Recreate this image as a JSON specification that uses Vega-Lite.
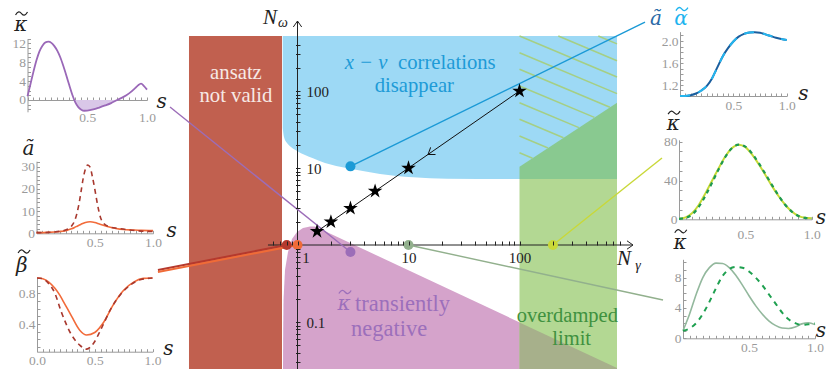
{
"$schema":"https://vega.github.io/schema/vega-lite/v6.json",
"width":826,"height":369,"autosize":{"type":"none"},"padding":0,"background":"white",
"config":{"view":{"stroke":null},"axis":{"grid":false,"labelFlush":false,"labelOverlap":false,"labelFont":"Liberation Serif"},"text":{"font":"Liberation Serif"}},
"datasets":{
"red":[{"x":0.1053,"x2":0.725,"y":518,"y2":0.01}],
"blue":[{"x":0.7357,"y":33.07},{"x":0.7556,"y":25.27},{"x":0.8043,"y":21.12},{"x":0.8738,"y":18.74},{"x":0.9897,"y":16.63},{"x":1.1684,"y":14.75},{"x":1.3793,"y":13.37},{"x":1.7689,"y":11.61},{"x":2.4149,"y":10.39},{"x":3.6576,"y":9.28},{"x":5.5376,"y":8.36},{"x":10.98,"y":7.57},{"x":22.23,"y":7.26},{"x":100,"y":7.197},{"x":755.8,"y":7.197}],
"pink":[{"x":0.7403,"y":0.02453},{"x":0.7433,"y":0.0787},{"x":0.7481,"y":0.1931},{"x":0.7716,"y":0.4735},{"x":0.8212,"y":0.8111},{"x":0.8922,"y":1.1965},{"x":0.9897,"y":1.4752},{"x":1.1208,"y":1.6626},{"x":1.2961,"y":1.739},{"x":1.4376,"y":1.739},{"x":755.8,"y":0.02527}],
"lgreen":[{"x":100,"x2":755.8,"y":7.197,"y2":0.01}],
"olive":[{"x":100,"y":0.0982},{"x":755.8,"y":0.02527}],
"dgreen":[{"x":100,"y":10.39},{"x":755.8,"y":70.5}],
"hatch":[{"x":100,"y":518,"x2":755.8,"y2":152},{"x":100,"y":314.4,"x2":755.8,"y2":92.5},{"x":100,"y":191.3,"x2":652.3,"y2":61.4},{"x":100,"y":116.1,"x2":472.9,"y2":45.4},{"x":100,"y":70.5,"x2":342.9,"y2":33.5},{"x":100,"y":42.9,"x2":249.1,"y2":24.7},{"x":100,"y":26.0,"x2":180.6,"y2":18.2},{"x":100,"y":15.8,"x2":131.0,"y2":13.4},{"x":223.6,"y":518,"x2":755.8,"y2":247.5},{"x":512.8,"y":518,"x2":755.8,"y2":409.0}],
"axlines":[{"x":0.542,"y":1,"x2":1053,"y2":1},{"x":1,"y":0.01,"x2":1,"y2":811}],
"conn_thin":[{"name":"purple","x":0.071,"y":62.0,"x2":3,"y2":0.811},{"name":"blue","x":3,"y":10.5,"x2":1351,"y2":787},{"name":"yellow","x":200,"y":1,"x2":1922,"y2":13.5},{"name":"green","x":10,"y":1,"x2":1963,"y2":0.193}],
"conn_thick":[{"name":"red","x":0.0553,"y":0.4735,"x2":0.8,"y2":1},{"name":"orange","x":0.0553,"y":0.446,"x2":1,"y2":1}],
"dots":[{"name":"red","x":0.8,"y":1},{"name":"orange","x":1,"y":1},{"name":"purple","x":3,"y":0.811},{"name":"blue","x":3,"y":10.5},{"name":"green","x":10,"y":1},{"name":"yellow","x":200,"y":1}],
"stars":[{"x":1.5,"y":1.5},{"x":2,"y":2},{"x":3,"y":3},{"x":5,"y":5},{"x":10,"y":10},{"x":100,"y":100}],
"k1":[{"s":0,"v":0.8},{"s":0.025,"v":3.4},{"s":0.05,"v":6.0},{"s":0.075,"v":8.4},{"s":0.1,"v":10.3},{"s":0.125,"v":11.5},{"s":0.15,"v":12.2},{"s":0.175,"v":12.35},{"s":0.2,"v":12.1},{"s":0.225,"v":11.4},{"s":0.25,"v":10.4},{"s":0.275,"v":9.0},{"s":0.3,"v":7.2},{"s":0.325,"v":5.2},{"s":0.35,"v":3.1},{"s":0.375,"v":1.1},{"s":0.4,"v":-0.5},{"s":0.425,"v":-1.5},{"s":0.45,"v":-2.05},{"s":0.475,"v":-2.28},{"s":0.5,"v":-2.25},{"s":0.55,"v":-2.0},{"s":0.6,"v":-1.6},{"s":0.65,"v":-1.15},{"s":0.7,"v":-0.65},{"s":0.75,"v":0.0},{"s":0.8,"v":0.6},{"s":0.85,"v":1.4},{"s":0.9,"v":2.5},{"s":0.925,"v":3.1},{"s":0.95,"v":3.45},{"s":0.975,"v":2.95},{"s":1.0,"v":2.2}],
"k1neg":[{"s":0.392,"v":0},{"s":0.4,"v":-0.5},{"s":0.425,"v":-1.5},{"s":0.45,"v":-2.05},{"s":0.475,"v":-2.28},{"s":0.5,"v":-2.25},{"s":0.55,"v":-2.0},{"s":0.6,"v":-1.6},{"s":0.65,"v":-1.15},{"s":0.7,"v":-0.65},{"s":0.75,"v":0}],
"a2d":[{"s":0,"v":0.3},{"s":0.1,"v":0.4},{"s":0.2,"v":0.9},{"s":0.25,"v":1.5},{"s":0.3,"v":3.2},{"s":0.33,"v":6},{"s":0.36,"v":12},{"s":0.38,"v":18},{"s":0.4,"v":24.5},{"s":0.42,"v":29},{"s":0.44,"v":30.8},{"s":0.46,"v":29.8},{"s":0.48,"v":25.5},{"s":0.5,"v":20},{"s":0.52,"v":14},{"s":0.55,"v":7},{"s":0.58,"v":4.3},{"s":0.62,"v":3.0},{"s":0.7,"v":2.2},{"s":0.8,"v":1.5},{"s":0.9,"v":1.0},{"s":1,"v":0.8}],
"a2s":[{"s":0,"v":0.3},{"s":0.1,"v":0.4},{"s":0.2,"v":0.8},{"s":0.26,"v":1.3},{"s":0.3,"v":2.0},{"s":0.34,"v":3.0},{"s":0.38,"v":4.0},{"s":0.42,"v":4.9},{"s":0.46,"v":5.2},{"s":0.5,"v":4.9},{"s":0.54,"v":4.2},{"s":0.6,"v":3.2},{"s":0.68,"v":2.2},{"s":0.75,"v":1.7},{"s":0.82,"v":1.5},{"s":0.9,"v":1.3},{"s":1,"v":1.2}],
"b3s":[{"s":0,"v":1},{"s":0.05,"v":0.99},{"s":0.1,"v":0.95},{"s":0.155,"v":0.865},{"s":0.2,"v":0.77},{"s":0.23,"v":0.69},{"s":0.3,"v":0.5},{"s":0.37,"v":0.32},{"s":0.43,"v":0.257},{"s":0.5,"v":0.29},{"s":0.58,"v":0.43},{"s":0.66,"v":0.65},{"s":0.75,"v":0.84},{"s":0.84,"v":0.95},{"s":0.92,"v":0.995},{"s":1,"v":1}],
"b3d":[{"s":0,"v":1},{"s":0.05,"v":0.99},{"s":0.1,"v":0.93},{"s":0.155,"v":0.8},{"s":0.21,"v":0.56},{"s":0.3,"v":0.257},{"s":0.37,"v":0.126},{"s":0.43,"v":0.074},{"s":0.49,"v":0.15},{"s":0.55,"v":0.32},{"s":0.64,"v":0.6},{"s":0.72,"v":0.78},{"s":0.81,"v":0.91},{"s":0.9,"v":0.98},{"s":1,"v":1}],
"al4":[{"s":0,"v":1},{"s":0.05,"v":1.0},{"s":0.1,"v":1.015},{"s":0.15,"v":1.045},{"s":0.2,"v":1.1},{"s":0.25,"v":1.18},{"s":0.3,"v":1.32},{"s":0.35,"v":1.52},{"s":0.4,"v":1.72},{"s":0.45,"v":1.87},{"s":0.5,"v":1.99},{"s":0.55,"v":2.08},{"s":0.6,"v":2.13},{"s":0.65,"v":2.155},{"s":0.7,"v":2.16},{"s":0.75,"v":2.15},{"s":0.8,"v":2.12},{"s":0.85,"v":2.09},{"s":0.9,"v":2.06},{"s":0.95,"v":2.035},{"s":1,"v":2.02}],
"k5s":[{"s":0,"v":0.5},{"s":0.05,"v":2},{"s":0.1,"v":6.5},{"s":0.15,"v":15},{"s":0.2,"v":27},{"s":0.25,"v":40},{"s":0.3,"v":53},{"s":0.35,"v":65},{"s":0.4,"v":73.5},{"s":0.45,"v":77},{"s":0.5,"v":74.5},{"s":0.55,"v":67},{"s":0.6,"v":57},{"s":0.65,"v":46},{"s":0.7,"v":34.5},{"s":0.75,"v":24},{"s":0.8,"v":15},{"s":0.85,"v":8},{"s":0.9,"v":3.5},{"s":0.95,"v":1.5},{"s":1,"v":1}],
"k5d":[{"s":0,"v":0.5},{"s":0.05,"v":1.5},{"s":0.1,"v":5},{"s":0.15,"v":13},{"s":0.2,"v":24.5},{"s":0.25,"v":38},{"s":0.3,"v":52},{"s":0.35,"v":64.5},{"s":0.4,"v":73.5},{"s":0.45,"v":77},{"s":0.5,"v":75},{"s":0.55,"v":68},{"s":0.6,"v":58},{"s":0.65,"v":47},{"s":0.7,"v":35.5},{"s":0.75,"v":24.5},{"s":0.8,"v":15},{"s":0.85,"v":8},{"s":0.9,"v":3.5},{"s":0.95,"v":1.5},{"s":1,"v":1}],
"k6s":[{"s":0,"v":1.0},{"s":0.05,"v":3.2},{"s":0.1,"v":5.8},{"s":0.15,"v":8.0},{"s":0.2,"v":9.3},{"s":0.25,"v":9.9},{"s":0.3,"v":9.85},{"s":0.35,"v":9.3},{"s":0.4,"v":8.3},{"s":0.45,"v":7.0},{"s":0.5,"v":5.6},{"s":0.55,"v":4.3},{"s":0.6,"v":3.2},{"s":0.65,"v":2.3},{"s":0.7,"v":1.7},{"s":0.75,"v":1.35},{"s":0.8,"v":1.3},{"s":0.85,"v":1.5},{"s":0.9,"v":1.9},{"s":0.95,"v":2.05},{"s":1,"v":1.8}],
"k6d":[{"s":0,"v":1.0},{"s":0.05,"v":1.3},{"s":0.1,"v":2.0},{"s":0.15,"v":3.2},{"s":0.2,"v":4.8},{"s":0.25,"v":6.6},{"s":0.3,"v":8.2},{"s":0.35,"v":9.1},{"s":0.4,"v":9.4},{"s":0.45,"v":9.3},{"s":0.5,"v":8.8},{"s":0.55,"v":8.0},{"s":0.6,"v":7.0},{"s":0.65,"v":5.8},{"s":0.7,"v":4.6},{"s":0.75,"v":3.4},{"s":0.8,"v":2.5},{"s":0.85,"v":2.0},{"s":0.9,"v":1.75},{"s":0.95,"v":1.85},{"s":1,"v":1.95}]
},
"resolve":{"scale":{"x":"independent","y":"independent"},"axis":{"x":"independent","y":"independent"}},
"layer":[
{
"encoding":{
"x":{"field":"x","type":"quantitative","scale":{"type":"log","domain":[0.1,1000],"range":[186.5,630.5],"nice":false},
"axis":{"orient":"bottom","offset":-124,"domain":false,"title":null,"values":[0.6,0.7,0.8,0.9,1,2,3,4,5,6,7,8,9,10,20,30,40,50,60,70,80,90,100,200,300,400,500,600,700,800],"tickSize":-4,"tickColor":"#222222","labelPadding":9.5,"labelFontSize":15,"labelColor":"#222222","format":"~g","labelExpr":"datum.value == 1 || datum.value == 10 || datum.value == 100 ? datum.label : ''","labelOffset":{"condition":{"test":"datum.value == 1","value":8},"value":0},"zindex":1}},
"y":{"field":"y","type":"quantitative","scale":{"type":"log","domain":[0.01,1000],"range":[399,14],"nice":false},
"axis":{"orient":"right","offset":-530.5,"domain":false,"title":null,"values":[0.03,0.04,0.05,0.06,0.07,0.08,0.09,0.1,0.2,0.3,0.4,0.5,0.6,0.7,0.8,0.9,2,3,4,5,6,7,8,9,10,20,30,40,50,60,70,80,90,100,200,300,400],"tickSize":4.5,"tickColor":"#222222","labelPadding":6,"labelFontSize":15,"labelColor":"#222222","format":"~g","labelExpr":"datum.value == 0.1 || datum.value == 10 || datum.value == 100 ? datum.label : ''","zindex":1}}
},
"layer":[
{"data":{"name":"red"},"mark":{"type":"rect","color":"#C1604F","opacity":1},"encoding":{"x2":{"field":"x2"},"y2":{"field":"y2"}}},
{"data":{"name":"blue"},"mark":{"type":"area","color":"#9DD9F5","opacity":1,"orient":"vertical","interpolate":"monotone"},"encoding":{"y2":{"datum":518}}},
{"data":{"name":"pink"},"mark":{"type":"area","color":"#D5A3CB","opacity":1,"orient":"vertical"},"encoding":{"y2":{"datum":0.01}}},
{"data":{"name":"lgreen"},"mark":{"type":"rect","color":"#B3D893","opacity":1},"encoding":{"x2":{"field":"x2"},"y2":{"field":"y2"}}},
{"data":{"name":"olive"},"mark":{"type":"area","color":"#A7B08B","opacity":1,"orient":"vertical"},"encoding":{"y2":{"datum":0.01}}},
{"data":{"name":"dgreen"},"mark":{"type":"area","color":"#89C990","opacity":1,"orient":"vertical"},"encoding":{"y2":{"datum":7.197}}},
{"data":{"name":"hatch"},"mark":{"type":"rule","color":"#A5CF84","strokeWidth":1.5},"encoding":{"x2":{"field":"x2"},"y2":{"field":"y2"}}},
{"data":{"values":[{"x":0.279,"y":171.3,"t":"ansatz"},{"x":0.279,"y":86.5,"t":"not valid"}]},"mark":{"type":"text","color":"#F7E9E5","fontSize":20.7,"align":"center","baseline":"middle"},"encoding":{"text":{"field":"t"}}},
{"data":{"values":[{"x":4.14,"y":231,"t":"x − v"}]},"mark":{"type":"text","color":"#1E9BD7","fontSize":20.7,"fontStyle":"italic","align":"center","baseline":"middle"},"encoding":{"text":{"field":"t"}}},
{"data":{"values":[{"x":8.04,"y":231,"t":"correlations"}]},"mark":{"type":"text","color":"#1E9BD7","fontSize":20.7,"align":"left","baseline":"middle"},"encoding":{"text":{"field":"t"}}},
{"data":{"values":[{"x":11.28,"y":116.1,"t":"disappear"}]},"mark":{"type":"text","color":"#1E9BD7","fontSize":20.7,"align":"center","baseline":"middle"},"encoding":{"text":{"field":"t"}}},
{"data":{"values":[{"x":2.624,"y":0.1713,"t":"κ"}]},"mark":{"type":"text","font":"DejaVu Serif","fontStyle":"italic","color":"#9C6FBB","fontSize":20,"align":"center","baseline":"middle"},"encoding":{"text":{"field":"t"}}},
{"data":{"values":[{"x":2.679,"y":0.2453}]},"mark":{"type":"point","shape":"M-1,0.25C-0.6,-0.45 -0.3,-0.35 0,0C0.3,0.35 0.6,0.45 1,-0.25","filled":false,"color":"#9C6FBB","strokeWidth":1.3,"opacity":1,"size":150}},
{"data":{"values":[{"x":3.296,"y":0.1713,"t":"transiently"}]},"mark":{"type":"text","color":"#9C6FBB","fontSize":22.5,"align":"left","baseline":"middle"},"encoding":{"text":{"field":"t"}}},
{"data":{"values":[{"x":6.7,"y":0.0811,"t":"negative"}]},"mark":{"type":"text","color":"#9C6FBB","fontSize":22.5,"align":"center","baseline":"middle"},"encoding":{"text":{"field":"t"}}},
{"data":{"values":[{"x":269.6,"y":0.1203,"t":"overdamped"},{"x":295.3,"y":0.0598,"t":"limit"}]},"mark":{"type":"text","color":"#3F913F","fontSize":20.5,"align":"center","baseline":"middle"},"encoding":{"text":{"field":"t"}}},
{"data":{"name":"axlines"},"mark":{"type":"rule","color":"#222222","strokeWidth":1},"encoding":{"x2":{"field":"x2"},"y2":{"field":"y2"}}},
{"data":{"values":[{"x":1053,"y":1}]},"mark":{"type":"point","shape":"M-1,-0.7L0,0L-1,0.7","filled":false,"color":"#222222","strokeWidth":1,"opacity":1,"size":144,"angle":0}},
{"data":{"values":[{"x":1,"y":811}]},"mark":{"type":"point","shape":"M-1,-0.7L0,0L-1,0.7","filled":false,"color":"#222222","strokeWidth":1,"opacity":1,"size":144,"angle":270}},
{"data":{"name":"conn_thin"},"mark":{"type":"rule","strokeWidth":1.4},"encoding":{"x2":{"field":"x2"},"y2":{"field":"y2"},"color":{"field":"name","type":"nominal","scale":{"domain":["red","orange","purple","blue","green","yellow"],"range":["#B5392D","#F06B37","#9C6DB8","#1B9AD6","#92B08D","#C9D838"]},"legend":null}}},
{"data":{"name":"conn_thick"},"mark":{"type":"rule","strokeWidth":2},"encoding":{"x2":{"field":"x2"},"y2":{"field":"y2"},"color":{"field":"name","type":"nominal","scale":{"domain":["red","orange","purple","blue","green","yellow"],"range":["#B5392D","#F06B37","#9C6DB8","#1B9AD6","#92B08D","#C9D838"]},"legend":null}}},
{"data":{"name":"stars"},"mark":{"type":"line","color":"#111111","strokeWidth":1}},
{"data":{"values":[{"x":15,"y":15}]},"mark":{"type":"point","shape":"M-1,-0.7L0,0L-1,0.7","filled":false,"color":"#111111","strokeWidth":1,"opacity":1,"size":150,"angle":145.4}},
{"data":{"name":"stars"},"mark":{"type":"point","shape":"M0,-1L0.2245,-0.309L0.9511,-0.309L0.3633,0.118L0.5878,0.809L0,0.382L-0.5878,0.809L-0.3633,0.118L-0.9511,-0.309L-0.2245,-0.309Z","filled":true,"color":"#000000","opacity":1,"size":235}},
{"data":{"name":"dots"},"mark":{"type":"point","filled":true,"shape":"circle","opacity":1,"size":100},"encoding":{"color":{"field":"name","type":"nominal","scale":{"domain":["red","orange","purple","blue","green","yellow"],"range":["#B5392D","#F06B37","#9C6DB8","#1B9AD6","#92B08D","#C9D838"]},"legend":null}}},
{"data":{"values":[{"x":0.5653,"y":879,"t":"N"},{"x":873.8,"y":0.658,"t":"N"}]},"mark":{"type":"text","color":"#222222","fontSize":21,"fontStyle":"italic","align":"center","baseline":"middle"},"encoding":{"text":{"field":"t"}}},
{"data":{"values":[{"x":0.7403,"y":775.5,"t":"ω"},{"x":1168.6,"y":0.5337,"t":"γ"}]},"mark":{"type":"text","color":"#222222","fontSize":14,"fontStyle":"italic","align":"center","baseline":"middle"},"encoding":{"text":{"field":"t"}}}
]
},
{
"encoding":{
"x":{"field":"s","type":"quantitative","scale":{"domain":[0,1],"range":[27.5,147],"nice":false,"zero":false},"axis":{"orient":"bottom","offset":-269,"title":null,"values":[0,0.05,0.1,0.15,0.2,0.25,0.3,0.35,0.4,0.45,0.5,0.55,0.6,0.65,0.7,0.75,0.8,0.85,0.9,0.95,1],"tickSize":-3,"tickColor":"#9A9A9A","domainColor":"#9A9A9A","labelColor":"#9A9A9A","labelFontSize":13.5,"labelPadding":13,"labelExpr":"datum.value == 0.5 || datum.value == 1 ? format(datum.value, '.1f') : ''"}},
"y":{"field":"v","type":"quantitative","scale":{"domain":[-2.5,13],"range":[111.8,38.6],"nice":false,"zero":false},"axis":{"orient":"left","offset":-27.5,"title":null,"values":[-2,-1,0,1,2,3,4,5,6,7,8,9,10,11,12,13],"tickSize":-3,"tickColor":"#9A9A9A","domainColor":"#9A9A9A","labelColor":"#9A9A9A","labelFontSize":13.5,"labelPadding":5,"labelExpr":"datum.value >= 0 && datum.value % 4 == 0 ? format(datum.value, 'd') : ''"}}
},
"layer":[
{"data":{"name":"k1neg"},"mark":{"type":"area","color":"#D9C7E8","opacity":1,"orient":"vertical","interpolate":"monotone"},"encoding":{"y2":{"datum":0}}},
{"data":{"name":"k1"},"mark":{"type":"line","color":"#9A68B8","strokeWidth":1.8,"interpolate":"monotone"}},
{"data":{"values":[{"s":-0.056,"v":15.8,"t":"κ"},{"s":1.123,"v":-0.4,"t":"s"}]},"mark":{"type":"text","font":"DejaVu Serif","fontStyle":"italic","fontSize":20,"color":"#222222","align":"center","baseline":"middle"},"encoding":{"text":{"field":"t"}}},
{"data":{"values":[{"s":-0.05,"v":18.3}]},"mark":{"type":"point","shape":"M-1,0.25C-0.6,-0.45 -0.3,-0.35 0,0C0.3,0.35 0.6,0.45 1,-0.25","filled":false,"color":"#222222","strokeWidth":1.2,"opacity":1,"size":144}}
]
},
{
"encoding":{
"x":{"field":"s","type":"quantitative","scale":{"domain":[0,1],"range":[36.5,153],"nice":false,"zero":false},"axis":{"orient":"bottom","offset":-135.7,"title":null,"values":[0,0.05,0.1,0.15,0.2,0.25,0.3,0.35,0.4,0.45,0.5,0.55,0.6,0.65,0.7,0.75,0.8,0.85,0.9,0.95,1],"tickSize":-3,"tickColor":"#9A9A9A","domainColor":"#9A9A9A","labelColor":"#9A9A9A","labelFontSize":13.5,"labelPadding":5,"labelExpr":"datum.value == 0.5 || datum.value == 1 ? format(datum.value, '.1f') : ''"}},
"y":{"field":"v","type":"quantitative","scale":{"domain":[0,32.5],"range":[233.3,161.2],"nice":false,"zero":false},"axis":{"orient":"left","offset":-36.5,"title":null,"values":[0,2,4,6,8,10,12,14,16,18,20,22,24,26,28,30,32],"tickSize":-3,"tickColor":"#9A9A9A","domainColor":"#9A9A9A","labelColor":"#9A9A9A","labelFontSize":13.5,"labelPadding":5,"labelExpr":"datum.value % 10 == 0 ? format(datum.value, 'd') : ''"}}
},
"layer":[
{"data":{"name":"a2s"},"mark":{"type":"line","color":"#F26B3A","strokeWidth":1.6,"interpolate":"monotone"}},
{"data":{"name":"a2d"},"mark":{"type":"line","color":"#A8382E","strokeWidth":1.6,"strokeDash":[5,4],"interpolate":"monotone"}},
{"data":{"values":[{"s":-0.07,"v":38,"t":"ã"},{"s":1.16,"v":0.9,"t":"s"}]},"mark":{"type":"text","font":"DejaVu Serif","fontStyle":"italic","fontSize":20,"color":"#222222","align":"center","baseline":"middle"},"encoding":{"text":{"field":"t"}}}
]
},
{
"encoding":{
"x":{"field":"s","type":"quantitative","scale":{"domain":[0,1],"range":[37,152.5],"nice":false,"zero":false},"axis":{"orient":"bottom","offset":-17.3,"title":null,"values":[0,0.05,0.1,0.15,0.2,0.25,0.3,0.35,0.4,0.45,0.5,0.55,0.6,0.65,0.7,0.75,0.8,0.85,0.9,0.95,1],"tickSize":-3,"tickColor":"#9A9A9A","domainColor":"#9A9A9A","labelColor":"#9A9A9A","labelFontSize":13.5,"labelPadding":5,"labelExpr":"datum.value == 0 || datum.value == 0.5 || datum.value == 1 ? format(datum.value, '.1f') : ''"}},
"y":{"field":"v","type":"quantitative","scale":{"domain":[0.04,1],"range":[351.7,278],"nice":false,"zero":false},"axis":{"orient":"left","offset":-37,"title":null,"values":[0.1,0.2,0.3,0.4,0.5,0.6,0.7,0.8,0.9,1],"tickSize":-3,"tickColor":"#9A9A9A","domainColor":"#9A9A9A","labelColor":"#9A9A9A","labelFontSize":13.5,"labelPadding":5,"labelExpr":"datum.value == 0.4 || datum.value == 0.8 ? format(datum.value, '.1f') : ''"}}
},
"layer":[
{"data":{"name":"b3s"},"mark":{"type":"line","color":"#F26B3A","strokeWidth":1.6,"interpolate":"monotone"}},
{"data":{"name":"b3d"},"mark":{"type":"line","color":"#A8382E","strokeWidth":1.6,"strokeDash":[5,4],"interpolate":"monotone"}},
{"data":{"values":[{"s":-0.132,"v":1.156,"t":"β"},{"s":1.137,"v":0.075,"t":"s"}]},"mark":{"type":"text","font":"DejaVu Serif","fontStyle":"italic","fontSize":20,"color":"#222222","align":"center","baseline":"middle"},"encoding":{"text":{"field":"t"}}},
{"data":{"values":[{"s":-0.112,"v":1.345}]},"mark":{"type":"point","shape":"M-1,0.25C-0.6,-0.45 -0.3,-0.35 0,0C0.3,0.35 0.6,0.45 1,-0.25","filled":false,"color":"#222222","strokeWidth":1.2,"opacity":1,"size":144}}
]
},
{
"encoding":{
"x":{"field":"s","type":"quantitative","scale":{"domain":[0,1],"range":[680,786.7],"nice":false,"zero":false},"axis":{"orient":"bottom","offset":-273,"title":null,"values":[0,0.05,0.1,0.15,0.2,0.25,0.3,0.35,0.4,0.45,0.5,0.55,0.6,0.65,0.7,0.75,0.8,0.85,0.9,0.95,1],"tickSize":-3,"tickColor":"#9A9A9A","domainColor":"#9A9A9A","labelColor":"#9A9A9A","labelFontSize":13.5,"labelPadding":5,"labelExpr":"datum.value == 0.5 || datum.value == 1 ? format(datum.value, '.1f') : ''"}},
"y":{"field":"v","type":"quantitative","scale":{"domain":[1,2.17],"range":[96,31.65],"nice":false,"zero":false},"axis":{"orient":"left","offset":-680,"title":null,"values":[1.1,1.2,1.3,1.4,1.5,1.6,1.7,1.8,1.9,2,2.1],"tickSize":-3,"tickColor":"#9A9A9A","domainColor":"#9A9A9A","labelColor":"#9A9A9A","labelFontSize":13.5,"labelPadding":5,"labelExpr":"datum.value == 1.2 || datum.value == 1.6 || datum.value == 2 ? format(datum.value, '.1f') : ''"}}
},
"layer":[
{"data":{"name":"al4"},"mark":{"type":"line","color":"#1A5E9E","strokeWidth":2,"interpolate":"monotone"}},
{"data":{"name":"al4"},"mark":{"type":"line","color":"#25B5EE","strokeWidth":2,"strokeDash":[10,9],"interpolate":"monotone"}},
{"data":{"values":[{"s":-0.225,"v":2.4,"t":"ã"}]},"mark":{"type":"text","font":"DejaVu Serif","fontStyle":"italic","fontSize":20,"color":"#2A6AA6","align":"center","baseline":"middle"},"encoding":{"text":{"field":"t"}}},
{"data":{"values":[{"s":0.009,"v":2.4,"t":"α"}]},"mark":{"type":"text","font":"DejaVu Serif","fontStyle":"italic","fontSize":20,"color":"#1EB4EF","align":"center","baseline":"middle"},"encoding":{"text":{"field":"t"}}},
{"data":{"values":[{"s":0.018,"v":2.58}]},"mark":{"type":"point","shape":"M-1,0.25C-0.6,-0.45 -0.3,-0.35 0,0C0.3,0.35 0.6,0.45 1,-0.25","filled":false,"color":"#1EB4EF","strokeWidth":1.3,"opacity":1,"size":144}},
{"data":{"values":[{"s":1.156,"v":1.03,"t":"s"}]},"mark":{"type":"text","font":"DejaVu Serif","fontStyle":"italic","fontSize":20,"color":"#222222","align":"center","baseline":"middle"},"encoding":{"text":{"field":"t"}}}
]
},
{
"encoding":{
"x":{"field":"s","type":"quantitative","scale":{"domain":[0,1],"range":[679,811.7],"nice":false,"zero":false},"axis":{"orient":"bottom","offset":-149.7,"title":null,"values":[0,0.05,0.1,0.15,0.2,0.25,0.3,0.35,0.4,0.45,0.5,0.55,0.6,0.65,0.7,0.75,0.8,0.85,0.9,0.95,1],"tickSize":-3,"tickColor":"#9A9A9A","domainColor":"#9A9A9A","labelColor":"#9A9A9A","labelFontSize":13.5,"labelPadding":11,"labelExpr":"datum.value == 0.5 || datum.value == 1 ? format(datum.value, '.1f') : ''"}},
"y":{"field":"v","type":"quantitative","scale":{"domain":[0,82],"range":[219.3,139.8],"nice":false,"zero":false},"axis":{"orient":"left","offset":-679,"title":null,"values":[0,10,20,30,40,50,60,70,80],"tickSize":-3,"tickColor":"#9A9A9A","domainColor":"#9A9A9A","labelColor":"#9A9A9A","labelFontSize":13.5,"labelPadding":5,"labelExpr":"datum.value % 40 == 0 ? format(datum.value, 'd') : ''"}}
},
"layer":[
{"data":{"name":"k5s"},"mark":{"type":"line","color":"#C6D935","strokeWidth":2,"interpolate":"monotone"}},
{"data":{"name":"k5d"},"mark":{"type":"line","color":"#1E9A50","strokeWidth":2.2,"strokeDash":[4,4],"interpolate":"monotone"}},
{"data":{"values":[{"s":-0.043,"v":98,"t":"κ"},{"s":1.07,"v":1.5,"t":"s"}]},"mark":{"type":"text","font":"DejaVu Serif","fontStyle":"italic","fontSize":20,"color":"#222222","align":"center","baseline":"middle"},"encoding":{"text":{"field":"t"}}},
{"data":{"values":[{"s":-0.037,"v":110}]},"mark":{"type":"point","shape":"M-1,0.25C-0.6,-0.45 -0.3,-0.35 0,0C0.3,0.35 0.6,0.45 1,-0.25","filled":false,"color":"#222222","strokeWidth":1.2,"opacity":1,"size":144}}
]
},
{
"encoding":{
"x":{"field":"s","type":"quantitative","scale":{"domain":[0,1],"range":[683,815],"nice":false,"zero":false},"axis":{"orient":"bottom","offset":-30.7,"title":null,"values":[0,0.05,0.1,0.15,0.2,0.25,0.3,0.35,0.4,0.45,0.5,0.55,0.6,0.65,0.7,0.75,0.8,0.85,0.9,0.95,1],"tickSize":-3,"tickColor":"#9A9A9A","domainColor":"#9A9A9A","labelColor":"#9A9A9A","labelFontSize":13.5,"labelPadding":5,"labelExpr":"datum.value == 0.5 || datum.value == 1 ? format(datum.value, '.1f') : ''"}},
"y":{"field":"v","type":"quantitative","scale":{"domain":[0,10.4],"range":[338.3,259.3],"nice":false,"zero":false},"axis":{"orient":"left","offset":-683,"title":null,"values":[0,1,2,3,4,5,6,7,8,9,10],"tickSize":-3,"tickColor":"#9A9A9A","domainColor":"#9A9A9A","labelColor":"#9A9A9A","labelFontSize":13.5,"labelPadding":5,"labelExpr":"datum.value % 4 == 0 ? format(datum.value, 'd') : ''"}}
},
"layer":[
{"data":{"name":"k6s"},"mark":{"type":"line","color":"#93B89D","strokeWidth":1.6,"interpolate":"monotone"}},
{"data":{"name":"k6d"},"mark":{"type":"line","color":"#1FA050","strokeWidth":2,"strokeDash":[5,5],"interpolate":"monotone"}},
{"data":{"values":[{"s":-0.023,"v":12.5,"t":"κ"},{"s":1.045,"v":0.9,"t":"s"}]},"mark":{"type":"text","font":"DejaVu Serif","fontStyle":"italic","fontSize":20,"color":"#222222","align":"center","baseline":"middle"},"encoding":{"text":{"field":"t"}}},
{"data":{"values":[{"s":-0.017,"v":14.1}]},"mark":{"type":"point","shape":"M-1,0.25C-0.6,-0.45 -0.3,-0.35 0,0C0.3,0.35 0.6,0.45 1,-0.25","filled":false,"color":"#222222","strokeWidth":1.2,"opacity":1,"size":144}}
]
}
]
}
